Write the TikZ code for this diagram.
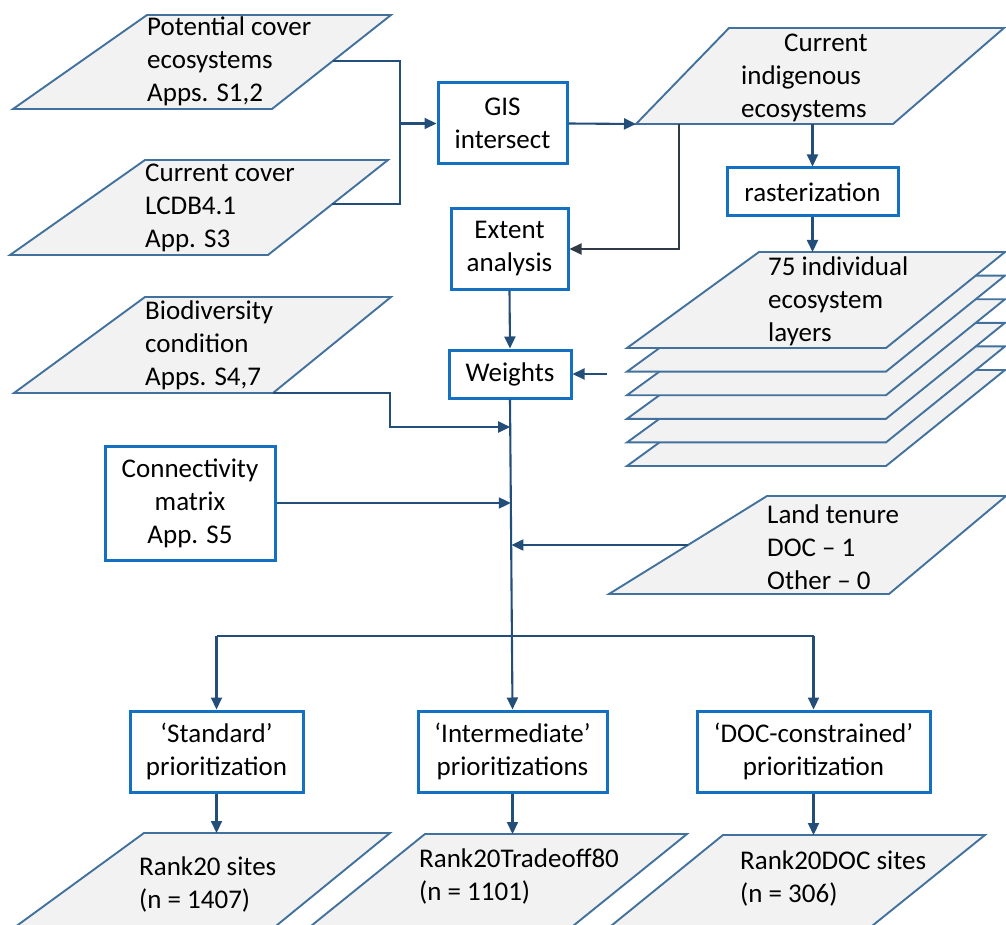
\documentclass[tikz,border=0pt]{standalone}
\usepackage{fontspec}
\setmainfont{Carlito}
\usetikzlibrary{arrows.meta,calc}
\definecolor{boxblue}{RGB}{20,112,192}
\definecolor{parablue}{RGB}{65,113,156}
\definecolor{parafill}{RGB}{242,242,242}
\definecolor{arrowblue}{RGB}{35,78,122}
\definecolor{darkline}{RGB}{50,58,72}
\tikzset{
  every node/.style={font=\fontsize{27}{33}\selectfont},
  procbox/.style={draw=boxblue, line width=3pt, fill=white, align=center, inner sep=0pt},
  para/.style={draw=parablue, fill=parafill, line width=1.9pt, line join=miter},
  ptext/.style={align=left, anchor=west, inner sep=0pt},
  conn/.style={draw=arrowblue, line width=2.1pt},
  arr/.style={conn, -{Triangle[length=12pt,width=11pt]}},
  darr/.style={draw=darkline, line width=2.1pt, -{Triangle[length=12pt,width=11pt]}},
}
\newcommand{\paragr}[5]{\path[para] #2 coordinate (#1-tl) -- #3 coordinate (#1-tr) -- #4 coordinate (#1-br) -- #5 coordinate (#1-bl) -- cycle;}
\begin{document}
\begin{tikzpicture}[x=1pt,y=-1pt]
\useasboundingbox (0,0) rectangle (1006,925);
\clip (0,0) rectangle (1006,925);
% input parallelograms
\paragr{p1}{(147,15)}{(391,15)}{(272,109)}{(13,109)}
\node[ptext] (p1t) at (147,61) {Potential cover\\ecosystems\\Apps. S1,2};
\paragr{p2}{(145,160)}{(388,160)}{(268,255)}{(10,255)}
\node[ptext] (p2t) at (145,208) {Current cover\\LCDB4.1\\App. S3};
\paragr{p3}{(729,28)}{(1004,28)}{(893,124)}{(636,124)}
\node[ptext] (p3t) at (741,78) {\hspace*{43pt}Current\\indigenous\\ecosystems};
% layers
\foreach \k in {5,4,3,2,1}{
  \path[para] (759,252+23.6*\k) -- (1005,252+23.6*\k) -- (886,348+23.6*\k) -- (627,348+23.6*\k) -- cycle;
}
\paragr{lay}{(759,252)}{(1005,252)}{(886,348)}{(627,348)}
\node[ptext] (layt) at (768,301) {75 individual\\ecosystem\\layers};
\paragr{bio}{(145,297)}{(391,297)}{(273,393)}{(14,393)}
\node[ptext] (biot) at (145,345) {Biodiversity\\condition\\Apps. S4,7};
\paragr{land}{(767,496)}{(1006,496)}{(889,594)}{(609,594)}
\node[ptext] (landt) at (767,547) {Land tenure\\DOC -- 1\\Other -- 0};
% output parallelograms
\paragr{r1}{(144,833)}{(390,833)}{(271,930)}{(11,930)}
\node[ptext] (r1t) at (139,884.5) {Rank20 sites\\(n = 1407)};
\paragr{r2}{(425,834)}{(687,834)}{(568,930)}{(306,930)}
\node[ptext] (r2t) at (419,876.5) {Rank20Tradeoff80\\(n = 1101)};
\paragr{r3}{(723,835)}{(985,835)}{(867,930)}{(606,930)}
\node[ptext] (r3t) at (740,878.5) {Rank20DOC sites\\(n = 306)};
% process boxes
\node[procbox, minimum width=129pt, minimum height=81pt] (gis) at (502.5,123.5) {GIS\\intersect};
\node[procbox, minimum width=171pt, minimum height=48pt] (raster) at (812.5,192) {rasterization};
\node[procbox, minimum width=117pt, minimum height=80pt] (extent) at (509.5,249) {Extent\\analysis};
\node[procbox, minimum width=122pt, minimum height=48pt] (weights) at (510,374) {Weights};
\node[procbox, minimum width=170pt, minimum height=114pt] (connmat) at (190,503) {Connectivity\\matrix\\App. S5};
\node[procbox, minimum width=173pt, minimum height=81pt] (stand) at (216.5,751.5) {‘Standard’\\prioritization};
\node[procbox, minimum width=189pt, minimum height=81pt] (inter) at (512.5,751.5) {‘Intermediate’\\prioritizations};
\node[procbox, minimum width=233pt, minimum height=81pt] (doc) at (813.5,751.5) {‘DOC-constrained’\\prioritization};
% junction coordinates
\coordinate (p1r) at ($(p1-tr)!0.49!(p1-br)$);
\coordinate (p2r) at ($(p2-tr)!0.463!(p2-br)$);
\coordinate (jA) at (400,123.5);
\coordinate (landl) at ($(land-tl)!0.5!(land-bl)$);
\coordinate (layin) at (607,374);
\coordinate (m1) at (510.2,427);
\coordinate (m2) at (510.8,503);
\coordinate (m3) at (511.4,545);
\coordinate (br) at (511.8,636);
% connectors
\draw[conn] (p1r) -| (jA);
\draw[conn] (p2r) -| (jA);
\draw[arr] (jA) -- (gis.west);
\draw[arr] (gis.east) -- (p3-bl);
\draw[arr] (raster.north |- p3-bl) -- (raster.north);
\draw[arr] (raster.south) -- (raster.south |- lay-tl);
\draw[darr] ($(p3-bl)+(43,0)$) |- (extent.east);
\draw[arr] (extent.south) -- (weights.north);
\draw[arr] (layin) -- (weights.east);
\draw[arr] (weights.south) -- (inter.north);
\draw[arr] (bio-br) -| ($(m1)+(-120,0)$) -- (m1);
\draw[arr] (connmat.east) -- (m2);
\draw[arr] (landl) -- (m3);
\draw[conn] (stand.north |- br) -- (doc.north |- br);
\draw[arr] (stand.north |- br) -- (stand.north);
\draw[arr] (doc.north |- br) -- (doc.north);
\draw[arr] (stand.south) -- (stand.south |- r1-tl);
\draw[arr] (inter.south) -- (inter.south |- r2-tl);
\draw[arr] (doc.south) -- (doc.south |- r3-tl);
\end{tikzpicture}
\end{document}
